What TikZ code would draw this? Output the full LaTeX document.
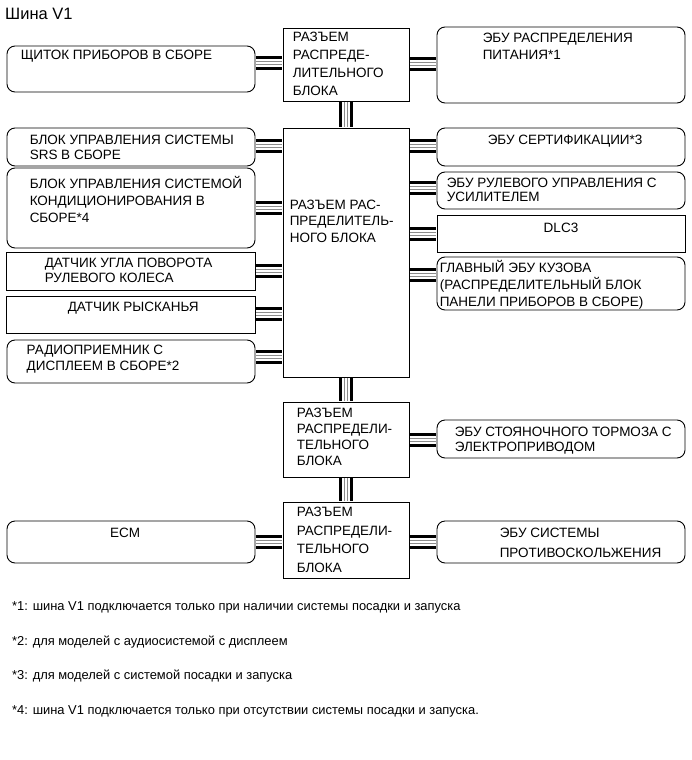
\documentclass[tikz,border=0pt]{standalone}
\usepackage{fontspec}
\setmainfont{Liberation Sans}
\usetikzlibrary{positioning}

\begin{document}
\begin{tikzpicture}[
    x=1pt, y=-1pt,
    every node/.style={font=\fontsize{13.5}{17}\selectfont},
    box/.style={draw, line width=0.9pt, inner sep=0pt},
    rbox/.style={box, rounded corners=8pt},
    lbl/.style={inner sep=0pt, align=left},
    lead/.style={font=\fontsize{13.5}{#1}\selectfont},
    note/.style={lbl, anchor=west, font=\fontsize{12.9}{15}\selectfont},
    bus/.style={line width=14pt, draw=black, shorten <=0.5pt, shorten >=0.5pt,
        postaction={draw=white, line width=8pt},
        postaction={draw=black!45, line width=4.6pt},
        postaction={draw=white, line width=2.6pt}}
]
\useasboundingbox (0,0) rectangle (691,760);

\node[lbl, anchor=west, font=\fontsize{16.5}{18}\selectfont] (title) at (5,14) {Шина V1};

% junction block connectors
\node[box, minimum width=126pt, minimum height=73pt] (jbA) at (346,64.5) {};
\node[box, minimum width=126pt, minimum height=249pt] (jbB) at (346,252.5) {};
\node[box, minimum width=126pt, minimum height=75pt] (jbC) at (346,439.5) {};
\node[box, minimum width=126pt, minimum height=76pt] (jbD) at (346,540) {};

% left column
\node[rbox, minimum width=248pt, minimum height=46pt] (shchitok) at (131,69) {};
\node[rbox, minimum width=248pt, minimum height=38pt] (srs) at (131,147) {};
\node[rbox, minimum width=248pt, minimum height=80pt] (conditioner) at (131,208) {};
\node[box, minimum width=249pt, minimum height=38pt] (steerAngle) at (130.5,271) {};
\node[box, minimum width=249pt, minimum height=37pt] (yawRate) at (130.5,314.5) {};
\node[rbox, minimum width=248pt, minimum height=43pt] (radio) at (131,361.5) {};
\node[rbox, minimum width=248pt, minimum height=42pt] (ecm) at (131,542) {};

% right column
\node[rbox, minimum width=248pt, minimum height=76pt] (pdu) at (561,65) {};
\node[rbox, minimum width=248pt, minimum height=38pt] (certif) at (561,147) {};
\node[rbox, minimum width=248pt, minimum height=37pt] (eps) at (561,190.5) {};
\node[box, minimum width=248pt, minimum height=37pt] (dlc) at (561,233.5) {};
\node[rbox, minimum width=248pt, minimum height=53pt] (mainBody) at (561,283.5) {};
\node[rbox, minimum width=248pt, minimum height=38pt] (epb) at (561,439) {};
\node[rbox, minimum width=248pt, minimum height=42pt] (skid) at (561,542) {};

% texts
\node[lbl, lead=18, below right=4pt and 10pt of jbA.north west] (tjbA)
    {РАЗЪЕМ\\РАСПРЕДЕ-\\ЛИТЕЛЬНОГО\\БЛОКА};
\node[lbl, lead=16.5, below right=72pt and 7pt of jbB.north west] (tjbB)
    {РАЗЪЕМ РАС-\\ПРЕДЕЛИТЕЛЬ-\\НОГО БЛОКА};
\node[lbl, lead=16, below right=6.5pt and 14pt of jbC.north west] (tjbC)
    {РАЗЪЕМ\\РАСПРЕДЕЛИ-\\ТЕЛЬНОГО\\БЛОКА};
\node[lbl, lead=18.5, below right=5.5pt and 14pt of jbD.north west] (tjbD)
    {РАЗЪЕМ\\РАСПРЕДЕЛИ-\\ТЕЛЬНОГО\\БЛОКА};

\node[lbl, below right=4pt and 14pt of shchitok.north west] (tshchitok) {ЩИТОК ПРИБОРОВ В СБОРЕ};
\node[lbl, lead=15, below right=7pt and 23pt of srs.north west] (tsrs)
    {БЛОК УПРАВЛЕНИЯ СИСТЕМЫ\\SRS В СБОРЕ};
\node[lbl, lead=17, below right=9pt and 23pt of conditioner.north west] (tconditioner)
    {БЛОК УПРАВЛЕНИЯ СИСТЕМОЙ\\КОНДИЦИОНИРОВАНИЯ В\\СБОРЕ*4};
\node[lbl, lead=15, below right=6.5pt and 39pt of steerAngle.north west] (tsteerAngle)
    {ДАТЧИК УГЛА ПОВОРОТА\\РУЛЕВОГО КОЛЕСА};
\node[lbl, below right=6.5pt and 62pt of yawRate.north west] (tyawRate) {ДАТЧИК РЫСКАНЬЯ};
\node[lbl, lead=16, below right=5.5pt and 20pt of radio.north west] (tradio)
    {РАДИОПРИЕМНИК С\\ДИСПЛЕЕМ В СБОРЕ*2};
\node[lbl, below=7.5pt of ecm.north, xshift=-6pt] (tecm) {ECM};

\node[lbl, lead=17, below right=6pt and 46pt of pdu.north west] (tpdu)
    {ЭБУ РАСПРЕДЕЛЕНИЯ\\ПИТАНИЯ*1};
\node[lbl, below right=7pt and 51pt of certif.north west] (tcertif) {ЭБУ СЕРТИФИКАЦИИ*3};
\node[lbl, lead=14, below right=6.5pt and 10pt of eps.north west] (teps)
    {ЭБУ РУЛЕВОГО УПРАВЛЕНИЯ С\\УСИЛИТЕЛЕМ};
\node[lbl, below=8pt of dlc.north] (tdlc) {DLC3};
\node[lbl, lead=17, below right=4pt and 3pt of mainBody.north west] (tmainBody)
    {ГЛАВНЫЙ ЭБУ КУЗОВА\\(РАСПРЕДЕЛИТЕЛЬНЫЙ БЛОК\\ПАНЕЛИ ПРИБОРОВ В СБОРЕ)};
\node[lbl, lead=15, below right=7.5pt and 18pt of epb.north west] (tepb)
    {ЭБУ СТОЯНОЧНОГО ТОРМОЗА С\\ЭЛЕКТРОПРИВОДОМ};
\node[lbl, lead=20, below right=7.5pt and 63pt of skid.north west] (tskid)
    {ЭБУ СИСТЕМЫ\\ПРОТИВОСКОЛЬЖЕНИЯ};

% bus lines
\draw[bus] (jbA.south) -- (jbB.north);
\draw[bus] (jbB.south) -- (jbC.north);
\draw[bus] (jbC.south) -- (jbD.north);
\draw[bus] (shchitok.east |- 0,63) -- (jbA.west |- 0,63);
\draw[bus] (jbA.east |- 0,64) -- (pdu.west |- 0,64);
\draw[bus] (srs.east |- 0,146) -- (jbB.west |- 0,146);
\draw[bus] (conditioner.east |- 0,208) -- (jbB.west |- 0,208);
\draw[bus] (steerAngle.east |- 0,271) -- (jbB.west |- 0,271);
\draw[bus] (yawRate.east |- 0,314) -- (jbB.west |- 0,314);
\draw[bus] (radio.east |- 0,357) -- (jbB.west |- 0,357);
\draw[bus] (jbB.east |- 0,146) -- (certif.west |- 0,146);
\draw[bus] (jbB.east |- 0,188) -- (eps.west |- 0,188);
\draw[bus] (jbB.east |- 0,234) -- (dlc.west |- 0,234);
\draw[bus] (jbB.east |- 0,275) -- (mainBody.west |- 0,275);
\draw[bus] (jbC.east |- 0,440) -- (epb.west |- 0,440);
\draw[bus] (ecm.east |- 0,542) -- (jbD.west |- 0,542);
\draw[bus] (jbD.east |- 0,542) -- (skid.west |- 0,542);

% notes
\node[note] (fn1) at (12,607) {*1: шина V1 подключается только при наличии системы посадки и запуска};
\node[note] (fn2) at (12,642) {*2: для моделей с аудиосистемой с дисплеем};
\node[note] (fn3) at (12,676) {*3: для моделей с системой посадки и запуска};
\node[note] (fn4) at (12,711) {*4: шина V1 подключается только при отсутствии системы посадки и запуска.};
\end{tikzpicture}
\end{document}
